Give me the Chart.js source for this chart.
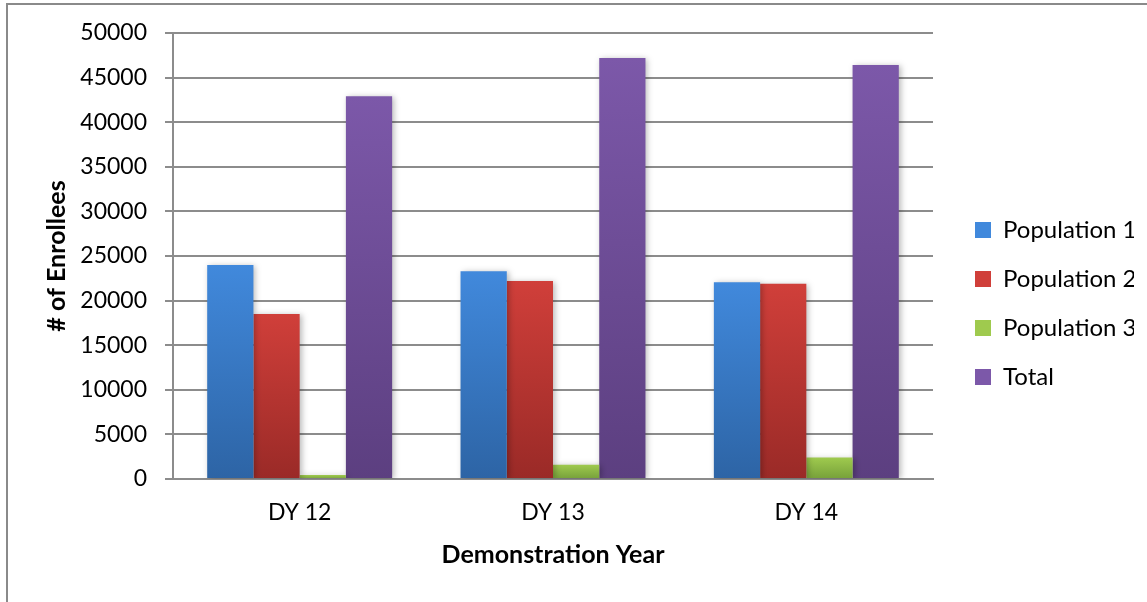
<!DOCTYPE html>
<html>
<head>
<meta charset="utf-8">
<script src="https://cdn.jsdelivr.net/npm/chart.js@4"></script>
<style>
  html, body { margin: 0; padding: 0; background: #fff; }
  #wrap { position: relative; width: 1147px; height: 602px; overflow: hidden; }
  #frame { position: absolute; left: 6px; top: 3px; width: 1300px; height: 700px; border: 2px solid #8a8a8a; box-sizing: border-box; }
  canvas { position: absolute; left: 0; top: 0; }
</style>
</head>
<body>
<div id="wrap">
  <div id="frame"></div>
  <canvas id="chart" width="1147" height="602"></canvas>
</div>
<script>
// 年度ラベル
const years = ["DY 12", "DY 13", "DY 14"];
// 各集団の加入者数
const population1 = [24000, 23300, 22050];
const population2 = [18500, 22200, 21900];
const population3 = [450, 1600, 2400];
const total = [42900, 47200, 46400];
// y 軸目盛り
const yTicks = [0, 5000, 10000, 15000, 20000, 25000, 30000, 35000, 40000, 45000, 50000];

const seriesNames = ["Population 1", "Population 2", "Population 3", "Total"];
const seriesValues = [population1, population2, population3, total];
// [上の色, 下の色]
const seriesColors = [
  ["#4189dc", "#2d64a5"],
  ["#d03f3a", "#9a2a27"],
  ["#9fca4e", "#76a03a"],
  ["#7c58a9", "#5c3f80"]
];

const FONT = "Lato, 'Liberation Sans', sans-serif";

// バーごとのグラデーション
function barFill(colors) {
  return (c) => {
    const chart = c.chart;
    const y = chart.scales && chart.scales.y;
    if (c.type !== "data" || !y || !chart.chartArea) return colors[0];
    const top = y.getPixelForValue(c.raw);
    const bottom = y.getPixelForValue(0);
    if (!isFinite(top) || bottom - top < 1) return colors[0];
    const g = chart.ctx.createLinearGradient(0, top, 0, bottom);
    g.addColorStop(0, colors[0]);
    g.addColorStop(1, colors[1]);
    return g;
  };
}

// バーの影
const barShadow = {
  id: "barShadow",
  beforeDatasetsDraw(chart) {
    const c = chart.ctx;
    c.save();
    c.shadowColor = "rgba(0,0,0,0.28)";
    c.shadowBlur = 6;
    c.shadowOffsetX = 2;
    c.shadowOffsetY = 1;
  },
  afterDatasetsDraw(chart) {
    chart.ctx.restore();
  }
};

const ctx = document.getElementById("chart").getContext("2d");

new Chart(ctx, {
  type: "bar",
  data: {
    labels: years,
    datasets: seriesNames.map((name, i) => ({
      label: name,
      data: seriesValues[i],
      backgroundColor: barFill(seriesColors[i]),
      borderWidth: 0,
      categoryPercentage: 0.73,
      barPercentage: 1
    }))
  },
  plugins: [barShadow],
  options: {
    responsive: false,
    animation: false,
    layout: { padding: { left: 30, right: 13, top: 5, bottom: 0 } },
    plugins: {
      title: { display: true, text: "", padding: 0, font: { size: 28, lineHeight: 1 } },
      tooltip: { enabled: false },
      legend: {
        position: "right",
        labels: {
          boxWidth: 16,
          boxHeight: 16,
          padding: 25,
          color: "#000",
          font: { family: FONT, size: 24 },
          generateLabels: (chart) => chart.data.datasets.map((ds, i) => ({
            text: ds.label,
            fillStyle: seriesColors[i][0],
            strokeStyle: seriesColors[i][0],
            lineWidth: 0,
            datasetIndex: i
          }))
        }
      }
    },
    scales: {
      x: {
        grid: { display: false, drawTicks: false },
        border: { display: true, color: "#8c8c8c", width: 2 },
        ticks: { color: "#000", padding: 20, font: { family: FONT, size: 23 } },
        title: {
          display: true,
          text: "Demonstration Year",
          color: "#000",
          font: { family: FONT, size: 25, weight: "bold" },
          padding: { top: 0, bottom: 32 }
        },
        afterFit: (s) => { s.height = 123; }
      },
      y: {
        min: 0,
        max: 50000,
        afterBuildTicks: (s) => { s.ticks = yTicks.map(v => ({ value: v })); },
        grid: { color: "#8c8c8c", lineWidth: 2, tickLength: 8 },
        border: { display: true, color: "#8c8c8c", width: 2 },
        ticks: { color: "#000", padding: 18, font: { family: FONT, size: 23 }, callback: (v) => String(v) },
        title: {
          display: true,
          text: "# of Enrollees",
          color: "#000",
          font: { family: FONT, size: 25, weight: "bold" },
          padding: { top: 12, bottom: 0 }
        },
        afterFit: (s) => { s.width = 143; }
      },
      // 凡例との間隔用
      gap: {
        type: "linear",
        position: "right",
        display: true,
        grid: { display: false, drawTicks: false },
        border: { display: false },
        ticks: { display: false },
        afterFit: (s) => { s.width = 17; }
      }
    }
  }
});
</script>
</body>
</html>
